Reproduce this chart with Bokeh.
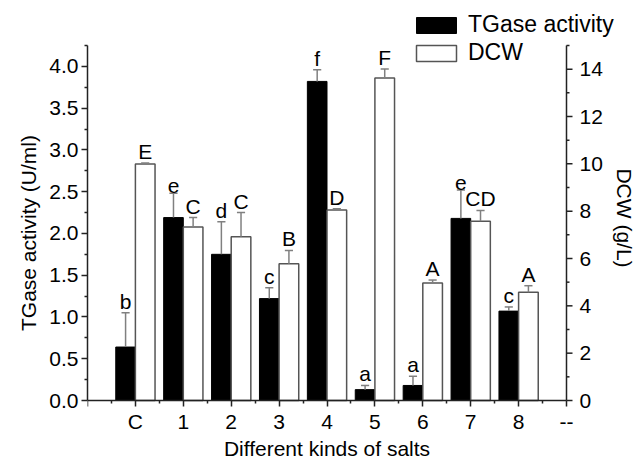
import math
from bokeh.plotting import figure
from bokeh.models import Range1d, FixedTicker, Legend, LegendItem, Title
from bokeh.core.properties import value
from bokeh.embed import file_html
from bokeh.resources import INLINE

# ---- data ----
categories = ["C", "1", "2", "3", "4", "5", "6", "7", "8"]
extra_tick_label = "--"
tgase = [0.64, 2.19, 1.75, 1.22, 3.82, 0.13, 0.18, 2.18, 1.07]
tgase_err = [0.41, 0.29, 0.39, 0.13, 0.14, 0.05, 0.11, 0.34, 0.05]
tgase_letters = ["b", "e", "d", "c", "f", "a", "a", "e", "c"]
dcw = [9.99, 7.33, 6.92, 5.78, 8.05, 13.63, 4.97, 7.57, 4.57]
dcw_err = [0.05, 0.40, 1.02, 0.56, 0.05, 0.38, 0.12, 0.46, 0.28]
dcw_letters = ["E", "C", "C", "B", "D", "F", "A", "CD", "A"]
left_ticks = [0.0, 0.5, 1.0, 1.5, 2.0, 2.5, 3.0, 3.5, 4.0]
right_ticks = [0, 2, 4, 6, 8, 10, 12, 14]
right_minor = [1, 3, 5, 7, 9, 11, 13, 15]
left_max = 4.25
right_max = 15

FONT = "Liberation Sans"
BW = 0.41
CAP = 0.085

# layout (pixels)
W, H = 639, 460
B_LEFT, B_TOP, B_BOTTOM = 87, 5, 0
AXIS_RIGHT = 566       # pixel column of the right axis
AXIS_TOP = 45          # pixel row where the y axes end
Y0 = 400               # pixel row of the x axis
n_pos = len(categories) + 1
frame_w = W - B_LEFT
frame_h = H - B_TOP - B_BOTTOM
PXU = (AXIS_RIGHT - B_LEFT) / n_pos          # pixels per x unit
PXL = (Y0 - AXIS_TOP) / left_max             # pixels per left-axis unit
PXR = (Y0 - AXIS_TOP) / right_max            # pixels per right-axis unit
below = H - B_BOTTOM - Y0
above = Y0 - B_TOP

pos = list(range(1, len(categories) + 1))
xb = [x - BW / 2 for x in pos]
xw = [x + BW / 2 for x in pos]
tg_top = [t + e for t, e in zip(tgase, tgase_err)]
dc_top = [t + e for t, e in zip(dcw, dcw_err)]

p = figure(width=W, height=H, x_range=Range1d(0, frame_w / PXU),
           y_range=Range1d(-below / PXL, above / PXL), output_backend="svg",
           toolbar_location=None,
           min_border_left=B_LEFT, min_border_right=0,
           min_border_top=B_TOP, min_border_bottom=B_BOTTOM)
p.extra_y_ranges = {"dcw": Range1d(-below / PXR, above / PXR)}
p.xgrid.visible = False
p.ygrid.visible = False
p.outline_line_color = None
p.background_fill_color = "white"

AX = "#222222"

def style_axis(ax):
    ax.axis_line_color = AX
    ax.axis_line_width = 1.5
    ax.major_tick_line_color = AX
    ax.minor_tick_line_color = AX
    ax.major_tick_line_width = 1.5
    ax.minor_tick_line_width = 1.5
    ax.major_tick_in = 0
    ax.major_tick_out = 6
    ax.minor_tick_in = 0
    ax.minor_tick_out = 3
    ax.major_label_text_font = FONT
    ax.major_label_text_font_size = "21px"
    ax.major_label_text_color = "black"

# x axis, drawn at y = 0
xa = p.xaxis[0]
style_axis(xa)
xa.fixed_location = 0
xa.bounds = (0, n_pos)
xa.ticker = FixedTicker(ticks=[0] + pos + [n_pos],
                        minor_ticks=[x - 0.5 for x in pos] + [n_pos - 0.5])
xa.major_label_overrides = {0: "", **{x: c for x, c in zip(pos, categories)},
                            n_pos: extra_tick_label}
xa.major_label_standoff = 3
p.text(x=[n_pos / 2], y=[-48 / PXL], text=["Different kinds of salts"],
       text_align="center", text_baseline="middle", text_font=value(FONT),
       text_font_size="21px", text_color="black")

# left axis
ya = p.yaxis[0]
style_axis(ya)
ya.bounds = (0, left_max)
ya.ticker = FixedTicker(ticks=left_ticks, minor_ticks=[t + 0.25 for t in left_ticks])
ya.major_label_overrides = {t: f"{t:.1f}" for t in left_ticks}
ya.major_label_standoff = 3
p.add_layout(Title(text="TGase activity (U/ml)", align="center", offset=21,
                   standoff=14, text_font=FONT, text_font_size="21px",
                   text_font_style="normal", text_color="black"), "left")

# right axis (drawn in the frame on the "dcw" scale, so the legend can extend past it)
RX = n_pos
p.segment(x0=[RX], y0=[0], x1=[RX], y1=[right_max], line_color=AX, line_width=1.5,
          y_range_name="dcw")
p.segment(x0=[RX] * len(right_ticks), y0=right_ticks,
          x1=[RX + 6 / PXU] * len(right_ticks), y1=right_ticks,
          line_color=AX, line_width=1.5, y_range_name="dcw")
p.segment(x0=[RX] * len(right_minor), y0=right_minor,
          x1=[RX + 3 / PXU] * len(right_minor), y1=right_minor,
          line_color=AX, line_width=1.5, y_range_name="dcw")
p.text(x=[RX] * len(right_ticks), y=right_ticks, text=[str(t) for t in right_ticks],
       x_offset=13, text_align="left", text_baseline="middle",
       text_font=value(FONT), text_font_size="21px", text_color="black",
       y_range_name="dcw")
p.text(x=[RX + 58 / PXU], y=[right_max / 2 + 5 / PXR], text=["DCW (g/L)"],
       angle=-math.pi / 2, text_align="center", text_baseline="middle",
       text_font=value(FONT), text_font_size="21px", text_color="black",
       y_range_name="dcw")

# bars
rb = p.vbar(x=xb, top=tgase, width=BW, fill_color="black", line_color="black",
            line_width=1)
rw = p.vbar(x=xw, top=dcw, width=BW, fill_color="white", line_color="#555555",
            line_width=1.5, y_range_name="dcw")

# error bars
EC = "#808080"
p.segment(x0=xb, y0=tgase, x1=xb, y1=tg_top, line_color=EC, line_width=1.5)
p.segment(x0=[x - CAP for x in xb], y0=tg_top, x1=[x + CAP for x in xb], y1=tg_top,
          line_color=EC, line_width=1.5)
p.segment(x0=xw, y0=dcw, x1=xw, y1=dc_top, line_color=EC, line_width=1.5,
          y_range_name="dcw")
p.segment(x0=[x - CAP for x in xw], y0=dc_top, x1=[x + CAP for x in xw], y1=dc_top,
          line_color=EC, line_width=1.5, y_range_name="dcw")

# significance letters
p.text(x=xb, y=tg_top, text=tgase_letters, text_align="center",
       text_baseline="bottom", text_font=value(FONT), text_font_size="21px",
       text_color="black")
p.text(x=xw, y=dc_top, text=dcw_letters, text_align="center",
       text_baseline="bottom", text_font=value(FONT), text_font_size="21px",
       text_color="black", y_range_name="dcw")

# legend
ITEM_H = 28
LEG_SP = 1
leg_h = 2 * ITEM_H + LEG_SP
leg_top = 9
legend = Legend(items=[LegendItem(label="TGase activity", renderers=[rb]),
                       LegendItem(label="DCW", renderers=[rw])],
                location=(416 - B_LEFT - 5, frame_h - (leg_top - B_TOP) - leg_h),
                orientation="vertical")
legend.glyph_width = 50
legend.glyph_height = 20
legend.label_height = 20
legend.spacing = LEG_SP
legend.padding = 0
legend.margin = 0
legend.label_standoff = 7
legend.border_line_color = None
legend.background_fill_alpha = 0
legend.label_text_font = FONT
legend.label_text_font_size = "23px"
legend.label_text_color = "black"
p.add_layout(legend, "center")

open("out.html", "w").write(file_html(p, INLINE))
